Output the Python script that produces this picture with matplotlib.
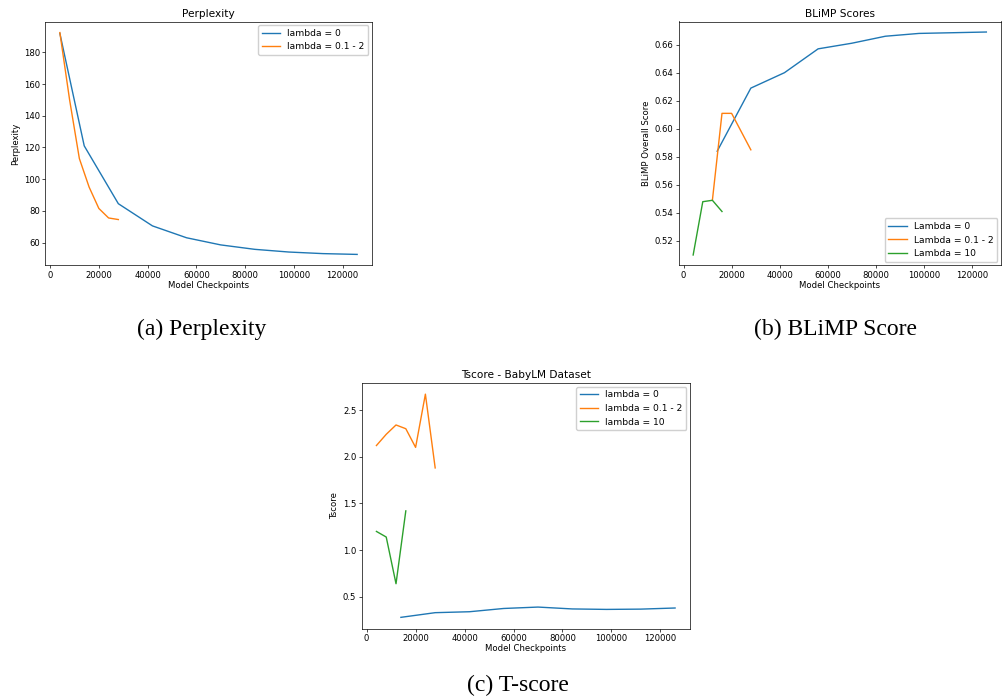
import matplotlib
matplotlib.use("Agg")
import matplotlib.pyplot as plt

# Perplexity
ppl_x0 = [4000, 14000, 28000, 42000, 56000, 70000, 84000, 98000, 112000, 126000]
ppl_y0 = [192, 121, 84.5, 70.5, 63, 58.5, 55.7, 54.0, 53.0, 52.5]
ppl_x1 = [4000, 8000, 12000, 16000, 20000, 24000, 28000]
ppl_y1 = [192.5, 150, 113, 95, 81.5, 75.5, 74.5]

# BLiMP
bl_x0 = [14000, 28000, 42000, 56000, 70000, 84000, 98000, 112000, 126000]
bl_y0 = [0.584, 0.629, 0.640, 0.657, 0.661, 0.666, 0.668, 0.6685, 0.669]
bl_x1 = [12000, 16000, 20000, 24000, 28000]
bl_y1 = [0.549, 0.611, 0.611, 0.598, 0.585]
bl_x2 = [4000, 8000, 12000, 16000]
bl_y2 = [0.510, 0.548, 0.549, 0.541]

# Tscore
ts_x0 = [14000, 28000, 42000, 56000, 70000, 84000, 98000, 112000, 126000]
ts_y0 = [0.28, 0.33, 0.34, 0.375, 0.39, 0.37, 0.365, 0.368, 0.38]
ts_x1 = [4000, 8000, 12000, 16000, 20000, 24000, 28000]
ts_y1 = [2.12, 2.24, 2.34, 2.30, 2.10, 2.67, 1.88]
ts_x2 = [4000, 8000, 12000, 16000]
ts_y2 = [1.20, 1.14, 0.64, 1.42]

xticks = [0, 20000, 40000, 60000, 80000, 100000, 120000]

W, H = 1002, 700
fig = plt.figure(figsize=(W / 100, H / 100), dpi=100)

def ax_at(l, t, r, b):
    return fig.add_axes([l / W, 1 - b / H, (r - l) / W, (b - t) / H])

FS = 6.1
LFS = 6.6
LW = 1.0
C0, C1, C2 = "#1f77b4", "#ff7f0e", "#2ca02c"

def style(ax, title, ylabel, loc):
    ax.set_title(title, fontsize=7.6, pad=3.5)
    ax.set_xlabel("Model Checkpoints", fontsize=FS, labelpad=1)
    ax.set_ylabel(ylabel, fontsize=FS, labelpad=2.5)
    ax.tick_params(labelsize=FS, length=2.2, width=0.5, pad=1.5)
    for s in ax.spines.values():
        s.set_linewidth(0.5)
    ax.set_xticks(xticks)
    ax.legend(fontsize=LFS, loc=loc, framealpha=1, edgecolor="#d0d0d0",
              borderaxespad=0.4)

ax1 = ax_at(45, 21.5, 372, 265.5)
ax1.plot(ppl_x0, ppl_y0, color=C0, lw=LW, label="lambda = 0")
ax1.plot(ppl_x1, ppl_y1, color=C1, lw=LW, label="lambda = 0.1 - 2")
ax1.set_yticks([60, 80, 100, 120, 140, 160, 180])
style(ax1, "Perplexity", "Perplexity", "upper right")

ax2 = ax_at(678.5, 21.5, 1001, 265.5)
ax2.plot(bl_x0, bl_y0, color=C0, lw=LW, label="Lambda = 0")
ax2.plot(bl_x1, bl_y1, color=C1, lw=LW, label="Lambda = 0.1 - 2")
ax2.plot(bl_x2, bl_y2, color=C2, lw=LW, label="Lambda = 10")
ax2.set_yticks([0.52, 0.54, 0.56, 0.58, 0.60, 0.62, 0.64, 0.66])
ax2.set_ylim(0.5025, 0.6765)
style(ax2, "BLiMP Scores", "BLiMP Overall Score", "lower right")

ax3 = ax_at(361.5, 383, 690, 628.5)
ax3.plot(ts_x0, ts_y0, color=C0, lw=LW, label="lambda = 0")
ax3.plot(ts_x1, ts_y1, color=C1, lw=LW, label="lambda = 0.1 - 2")
ax3.plot(ts_x2, ts_y2, color=C2, lw=LW, label="lambda = 10")
ax3.set_yticks([0.5, 1.0, 1.5, 2.0, 2.5])
style(ax3, "Tscore - BabyLM Dataset", "Tscore", "upper right")

cap = dict(fontsize=17, family="Liberation Serif", ha="center", va="center")
fig.text(202 / W, 1 - 329 / H, "(a) Perplexity", **cap)
fig.text(835 / W, 1 - 329 / H, "(b) BLiMP Score", **cap)
fig.text(518 / W, 1 - 685 / H, "(c) T-score", **cap)

fig.savefig("out.png", dpi=100)
